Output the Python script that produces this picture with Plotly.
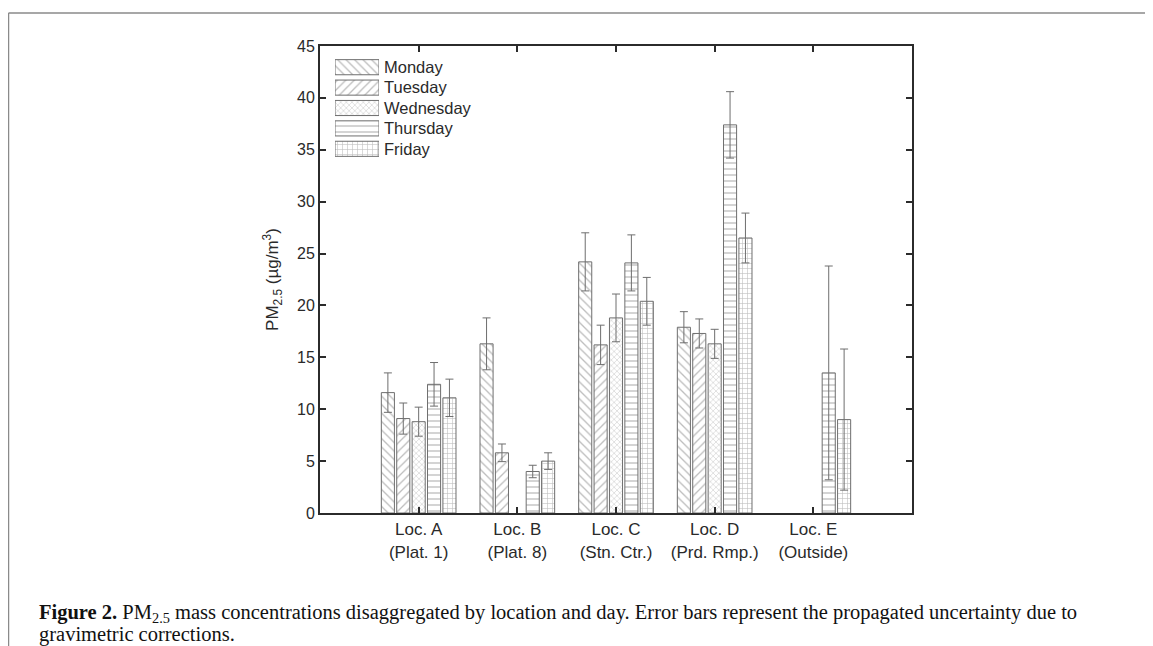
import plotly.graph_objects as go

# ---------------- data ----------------
locations = ["Loc. A<br>(Plat. 1)", "Loc. B<br>(Plat. 8)", "Loc. C<br>(Stn. Ctr.)",
             "Loc. D<br>(Prd. Rmp.)", "Loc. E<br>(Outside)"]
days = ["Monday", "Tuesday", "Wednesday", "Thursday", "Friday"]

monday = [11.6, 16.3, 24.2, 17.9, None]
tuesday = [9.1, 5.8, 16.2, 17.3, None]
wednesday = [8.8, None, 18.8, 16.3, None]
thursday = [12.4, 4.0, 24.1, 37.4, 13.5]
friday = [11.1, 5.0, 20.4, 26.5, 9.0]

monday_err = [1.9, 2.5, 2.8, 1.5, None]
tuesday_err = [1.5, 0.85, 1.9, 1.4, None]
wednesday_err = [1.4, None, 2.3, 1.4, None]
thursday_err = [2.1, 0.6, 2.7, 3.2, 10.3]
friday_err = [1.8, 0.8, 2.3, 2.4, 6.8]

y_ticks = [0, 5, 10, 15, 20, 25, 30, 35, 40, 45]

values = [monday, tuesday, wednesday, thursday, friday]
errors = [monday_err, tuesday_err, wednesday_err, thursday_err, friday_err]
patterns = ["\\", "/", "x", "-", "+"]
pattern_sizes = [6, 6, 4, 6, 5]

# ---------------- geometry helpers ----------------
W, H = 1153, 646
OX, OY = 8, 7            # page offset of the figure inside the browser
L, R, T, B = 320, 912, 45, 512   # plot area in screen pixels


def px(x):
    return (x - L) / (R - L)


def py(y):
    return (B - y) / (B - T)


LINE = "#6e6e6e"
PAT = "#7c7c7c"
TXT = "#2a2a2a"
AX = "#2b2b2b"

fig = go.Figure()

for d, vals, errs, shp, sz in zip(days, values, errors, patterns, pattern_sizes):
    fig.add_trace(go.Bar(
        x=locations, y=vals, name=d, showlegend=False,
        marker=dict(color="white",
                    line=dict(color=LINE, width=1),
                    pattern=dict(shape=shp, fgcolor=PAT, bgcolor="white",
                                 size=sz, solidity=0.22, fillmode="overlay")),
        error_y=dict(type="data", array=errs, visible=True, color=LINE,
                     thickness=1, width=4),
        xaxis="x", yaxis="y",
    ))

# legend swatches drawn as a tiny horizontal bar chart
fig.add_trace(go.Bar(
    y=days, x=[1] * len(days), orientation="h", width=0.74, showlegend=False,
    marker=dict(color="white", line=dict(color=LINE, width=1),
                pattern=dict(shape=patterns, fgcolor=PAT, bgcolor="white",
                             size=pattern_sizes, solidity=0.22)),
    xaxis="x2", yaxis="y2", hoverinfo="skip",
))

fig.update_layout(
    width=W, height=H,
    margin=dict(l=L - OX, r=W - (R - OX), t=T - OY, b=H - (B - OY), autoexpand=False),
    paper_bgcolor="white", plot_bgcolor="white",
    barmode="group", bargap=0.22, bargroupgap=0.15,
    font=dict(family="Liberation Sans, Arial", size=16, color=TXT),
    xaxis=dict(range=[-1, 5], showline=True, linecolor=AX, linewidth=2,
               mirror="ticks", ticks="inside", ticklen=6, tickcolor=AX,
               tickwidth=2, showgrid=False, zeroline=False,
               tickfont=dict(size=17, color=TXT)),
    yaxis=dict(range=[0, 45], tickvals=y_ticks, showline=True, linecolor=AX,
               linewidth=2, mirror="ticks", ticks="inside", ticklen=6,
               tickcolor=AX, tickwidth=2, showgrid=False, zeroline=False,
               tickfont=dict(size=16, color=TXT),
               title=dict(text="PM<sub>2.5</sub> (µg/m<sup>3</sup>)",
                          font=dict(size=17, color=TXT), standoff=14)),
    xaxis2=dict(domain=[px(335), px(379)], range=[0, 1], anchor="y2",
                visible=False, fixedrange=True),
    yaxis2=dict(domain=[py(158), py(56)], anchor="x2", side="right",
                categoryorder="array", categoryarray=days[::-1],
                showline=False, showgrid=False, zeroline=False, ticks="",
                ticklabelstandoff=4,
                tickfont=dict(size=16.5, color=TXT), fixedrange=True),
)

# page frame
fig.add_shape(type="line", xref="paper", yref="paper",
              x0=px(8.5), x1=px(W + 10), y0=py(12), y1=py(12),
              line=dict(color="#8a8a8a", width=1.5))
fig.add_shape(type="line", xref="paper", yref="paper",
              x0=px(8.5), x1=px(8.5), y0=py(12), y1=py(H + 10),
              line=dict(color="#8a8a8a", width=1.5))

# caption
cap_font = dict(family="Liberation Serif, Times New Roman", size=20.5, color="#111111")
fig.add_annotation(xref="paper", yref="paper", x=px(37), y=py(612),
                   xanchor="left", yanchor="middle", showarrow=False,
                   font=cap_font,
                   text="<b>Figure 2.</b> PM<sub>2.5</sub> mass concentrations disaggregated by location and day. "
                        "Error bars represent the propagated uncertainty due to")
fig.add_annotation(xref="paper", yref="paper", x=px(37), y=py(633),
                   xanchor="left", yanchor="middle", showarrow=False,
                   font=cap_font, text="gravimetric corrections.")

fig.write_html("out.html")
